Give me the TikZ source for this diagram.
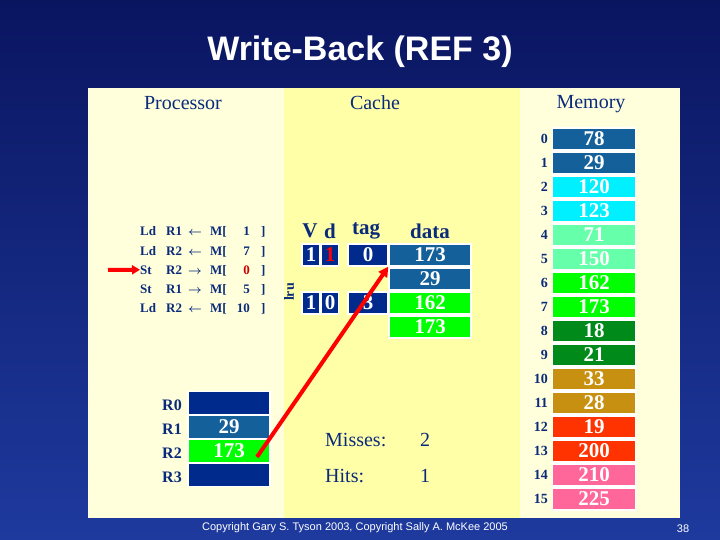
\documentclass[tikz,border=0pt]{standalone}
\usepackage{amsmath}
\usepackage{fontspec}
\setmainfont{Liberation Serif}
\setsansfont{Liberation Sans}
\usetikzlibrary{arrows.meta}
\definecolor{navy}{HTML}{0A2A7A}
\definecolor{boxnavy}{HTML}{002A8C}
\definecolor{steel}{HTML}{14609A}
\definecolor{cyanb}{HTML}{00F0FF}
\definecolor{mint}{HTML}{66FFAA}
\definecolor{lgreen}{HTML}{00FF00}
\definecolor{dgreen}{HTML}{008A1A}
\definecolor{gold}{HTML}{C89010}
\definecolor{redb}{HTML}{FF3300}
\definecolor{pinkb}{HTML}{FF6699}
\definecolor{pale}{HTML}{FFFFDC}
\definecolor{cachey}{HTML}{FFFFA8}
\definecolor{bgtop}{HTML}{0A1560}
\definecolor{bgbot}{HTML}{1E3A9E}
\begin{document}
\begin{tikzpicture}[x=1pt,y=-1pt,
  cell/.style={draw=white,line width=1.2pt,minimum height=22pt,inner sep=0pt,text=white,font=\bfseries\fontsize{21}{21}\selectfont},
  lbl/.style={text=navy,font=\bfseries\fontsize{14}{14}\selectfont,inner sep=0pt},
  ins/.style={text=navy,font=\bfseries\fontsize{13}{13}\selectfont,inner sep=0pt,anchor=base west},
  head/.style={text=navy,font=\fontsize{20}{20}\selectfont,inner sep=0pt}]
\shade[top color=bgtop,bottom color=bgbot] (0,0) rectangle (720,540);
\useasboundingbox (0,0) rectangle (720,540);
\fill[pale] (88,88) rectangle (680,518);
\fill[cachey] (284,88) rectangle (520,518);
\node[text=white,font=\sffamily\bfseries\fontsize{34}{34}\selectfont] (title) at (360,52) {Write-Back (REF 3)};
\node[head] (hp) at (183,103) {Processor};
\node[head] (hc) at (375,103) {Cache};
\node[head] (hm) at (591,104) {Memory};
% memory
\foreach \i/\v/\c in {0/78/steel,1/29/steel,2/120/cyanb,3/123/cyanb,4/71/mint,5/150/mint,6/162/lgreen,7/173/lgreen,8/18/dgreen,9/21/dgreen,10/33/gold,11/28/gold,12/19/redb,13/200/redb,14/210/pinkb,15/225/pinkb}{
  \node[cell,fill=\c,minimum width=83pt] (m\i) at (594,{139+24*\i}) {\v};
  \node[lbl,anchor=east] (mi\i) at (548,{139+24*\i}) {\i};
}
% instructions
\foreach \y/\a/\r/\d/\n [count=\k] in {236/Ld/R1/\leftarrow/1,255/Ld/R2/\leftarrow/7,274/St/R2/\rightarrow/{\textcolor{red!80!black}{0}},293/St/R1/\rightarrow/5,312/Ld/R2/\leftarrow/10}{
  \node[ins] (ia\k) at (140,\y) {\a};
  \node[ins] (ir\k) at (166,\y) {\r};
  \node[ins] (id\k) at (188,\y) {$\boldsymbol{\d}$};
  \node[ins] (im\k) at (210,\y) {M[};
  \node[ins,anchor=base east] (in\k) at (250,\y) {\n};
  \node[ins] (ib\k) at (261,\y) {]};
}
\coordinate (pa) at (108,270);
\draw[red,line width=4pt,-{Triangle[length=8pt,width=9pt]}] (pa) -- (ia3.west);
% cache
\node[head,font=\bfseries\fontsize{21}{21}\selectfont] (hv) at (310,231) {V};
\node[head,font=\bfseries\fontsize{21}{21}\selectfont] (hd) at (330,231) {d};
\node[head,font=\bfseries\fontsize{21}{21}\selectfont] (ht) at (366,231) {tag};
\node[head,font=\bfseries\fontsize{21}{21}\selectfont] (hdt) at (430,231) {data};
\node[cell,fill=boxnavy,minimum width=18pt] (v0) at (311,255) {1};
\node[cell,fill=boxnavy,minimum width=17pt,text=red] (d0) at (330,255) {1};
\node[cell,fill=boxnavy,minimum width=40pt] (t0) at (368,255) {0};
\node[cell,fill=steel,minimum width=82pt] (c0) at (430,255) {173};
\node[cell,fill=steel,minimum width=82pt] (c1) at (430,279) {29};
\node[cell,fill=boxnavy,minimum width=18pt] (v1) at (311,303) {1};
\node[cell,fill=boxnavy,minimum width=17pt] (d1) at (330,303) {0};
\node[cell,fill=boxnavy,minimum width=40pt] (t1) at (368,303) {3};
\node[cell,fill=lgreen,minimum width=82pt] (c2) at (430,303) {162};
\node[cell,fill=lgreen,minimum width=82pt] (c3) at (430,327) {173};
\node[lbl,rotate=90] (lru) at (289,292) {lru};
% registers
\foreach \i/\v/\c in {0//boxnavy,1/29/steel,2/173/lgreen,3//boxnavy}{
  \node[cell,fill=\c,minimum width=82pt,minimum height=23pt] (r\i) at (229,{403+24*\i}) {\v};
  \node[lbl,font=\bfseries\fontsize{16}{16}\selectfont,anchor=east] (rl\i) at (182,{405+24*\i}) {R\i};
}
\node[head,anchor=west] (mis) at (325,440) {Misses:};
\node[head] (misv) at (425,440) {2};
\node[head,anchor=west] (hit) at (325,476) {Hits:};
\node[head] (hitv) at (425,476) {1};
\coordinate (ra) at (257,457);
\draw[red,line width=4pt,-{Triangle[length=10pt,width=10pt]}] (ra) -- (c0.south west);
\node[text=white,font=\sffamily\fontsize{11}{11}\selectfont] (copy) at (355,528) {Copyright Gary S. Tyson 2003, Copyright Sally A. McKee 2005};
\node[text=white,font=\sffamily\fontsize{11}{11}\selectfont] (pg) at (683,529) {38};
\end{tikzpicture}
\end{document}
